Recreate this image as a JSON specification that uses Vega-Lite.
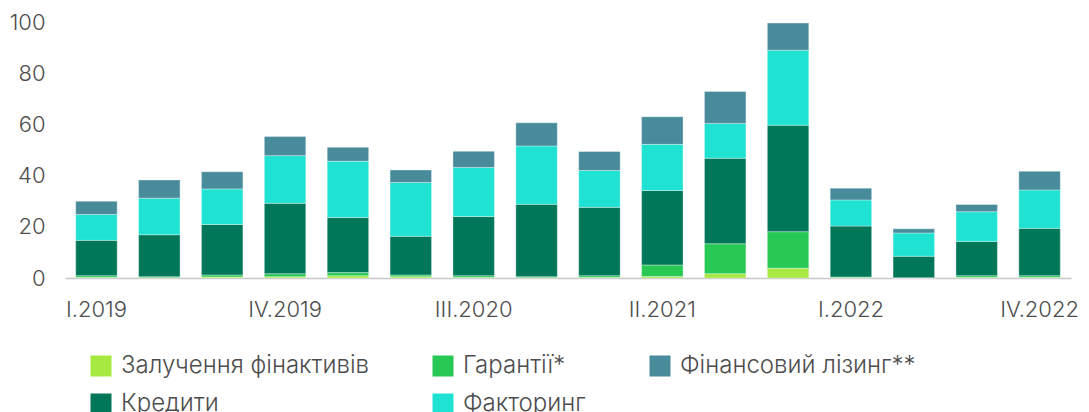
{
  "$schema": "https://vega.github.io/schema/vega-lite/v6.json",
  "autosize": "none",
  "width": 1006,
  "height": 256,
  "padding": {"left": 65, "top": 22, "right": 18, "bottom": 134},
  "background": "white",
  "config": {
    "view": {"stroke": null},
    "font": "Inter"
  },
  "data": {
    "values": [
      {"q": "I.2019", "Залучення фінактивів": 0.2, "Гарантії*": 0.7, "Кредити": 13.8, "Факторинг": 10.1, "Фінансовий лізинг**": 5.2},
      {"q": "II.2019", "Залучення фінактивів": 0.1, "Гарантії*": 0.4, "Кредити": 16.4, "Факторинг": 14.3, "Фінансовий лізинг**": 7.1},
      {"q": "III.2019", "Залучення фінактивів": 0.4, "Гарантії*": 0.8, "Кредити": 19.7, "Факторинг": 13.9, "Фінансовий лізинг**": 6.7},
      {"q": "IV.2019", "Залучення фінактивів": 0.5, "Гарантії*": 1.2, "Кредити": 27.5, "Факторинг": 18.6, "Фінансовий лізинг**": 7.5},
      {"q": "I.2020", "Залучення фінактивів": 0.9, "Гарантії*": 1.2, "Кредити": 21.5, "Факторинг": 22.0, "Фінансовий лізинг**": 5.5},
      {"q": "II.2020", "Залучення фінактивів": 0.5, "Гарантії*": 0.7, "Кредити": 15.1, "Факторинг": 21.0, "Фінансовий лізинг**": 4.9},
      {"q": "III.2020", "Залучення фінактивів": 0.2, "Гарантії*": 0.7, "Кредити": 23.1, "Факторинг": 19.2, "Фінансовий лізинг**": 6.3},
      {"q": "IV.2020", "Залучення фінактивів": 0.1, "Гарантії*": 0.4, "Кредити": 28.3, "Факторинг": 22.8, "Фінансовий лізинг**": 9.0},
      {"q": "I.2021", "Залучення фінактивів": 0.2, "Гарантії*": 0.7, "Кредити": 26.7, "Факторинг": 14.4, "Фінансовий лізинг**": 7.4},
      {"q": "II.2021", "Залучення фінактивів": 0.6, "Гарантії*": 4.5, "Кредити": 29.1, "Факторинг": 18.0, "Фінансовий лізинг**": 10.8},
      {"q": "III.2021", "Залучення фінактивів": 1.7, "Гарантії*": 11.7, "Кредити": 33.4, "Факторинг": 13.6, "Фінансовий лізинг**": 12.5},
      {"q": "IV.2021", "Залучення фінактивів": 3.8, "Гарантії*": 14.3, "Кредити": 41.6, "Факторинг": 29.3, "Фінансовий лізинг**": 10.6},
      {"q": "I.2022", "Залучення фінактивів": 0.1, "Гарантії*": 0.3, "Кредити": 19.9, "Факторинг": 10.2, "Фінансовий лізинг**": 4.6},
      {"q": "II.2022", "Залучення фінактивів": 0.0, "Гарантії*": 0.1, "Кредити": 8.4, "Факторинг": 9.1, "Фінансовий лізинг**": 1.6},
      {"q": "III.2022", "Залучення фінактивів": 0.2, "Гарантії*": 0.7, "Кредити": 13.4, "Факторинг": 11.6, "Фінансовий лізинг**": 2.8},
      {"q": "IV.2022", "Залучення фінактивів": 0.2, "Гарантії*": 0.7, "Кредити": 18.5, "Факторинг": 15.0, "Фінансовий лізинг**": 7.3}
    ]
  },
  "transform": [
    {"fold": ["Залучення фінактивів", "Гарантії*", "Кредити", "Факторинг", "Фінансовий лізинг**"], "as": ["series", "value"]},
    {"window": [{"op": "row_number", "as": "layer"}], "groupby": ["q"]}
  ],
  "mark": {"type": "bar", "stroke": "#ffffff", "strokeWidth": 0.6, "strokeOpacity": 0.6},
  "encoding": {
    "x": {
      "field": "q",
      "type": "ordinal",
      "sort": null,
      "scale": {"paddingInner": 0.34, "paddingOuter": 0.17},
      "axis": {
        "title": null,
        "values": ["I.2019", "IV.2019", "III.2020", "II.2021", "I.2022", "IV.2022"],
        "labelAngle": 0,
        "labelFontSize": 22,
        "labelFontWeight": 300,
        "labelColor": "#4d4d4d",
        "labelPadding": 21,
        "labelBaseline": "top",
        "ticks": false,
        "tickSize": 0,
        "domainColor": "#c8c8c8",
        "domainWidth": 1.5,
        "grid": false
      }
    },
    "y": {
      "field": "value",
      "type": "quantitative",
      "stack": "zero",
      "scale": {"domain": [0, 100], "nice": false},
      "axis": {
        "title": null,
        "values": [0, 20, 40, 60, 80, 100],
        "labelFontSize": 22,
        "labelFontWeight": 300,
        "labelColor": "#4d4d4d",
        "labelPadding": 20,
        "ticks": false,
        "tickSize": 0,
        "domain": false,
        "grid": false
      }
    },
    "order": {"field": "layer", "type": "quantitative", "sort": "ascending"},
    "color": {
      "field": "series",
      "type": "nominal",
      "scale": {
        "domain": ["Залучення фінактивів", "Гарантії*", "Фінансовий лізинг**", "Кредити", "Факторинг"],
        "range": ["#a7e841", "#28c855", "#488b9a", "#007759", "#1fe2d2"]
      },
      "legend": {
        "title": null,
        "orient": "none",
        "legendX": 24,
        "legendY": 332,
        "direction": "horizontal",
        "columns": 3,
        "symbolType": "square",
        "symbolSize": 441,
        "symbolStrokeWidth": 0,
        "labelFontSize": 24,
        "labelFontWeight": 300,
        "labelColor": "#4d4d4d",
        "labelOffset": 8,
        "labelLimit": 400,
        "columnPadding": 62,
        "rowPadding": 14
      }
    }
  }
}
